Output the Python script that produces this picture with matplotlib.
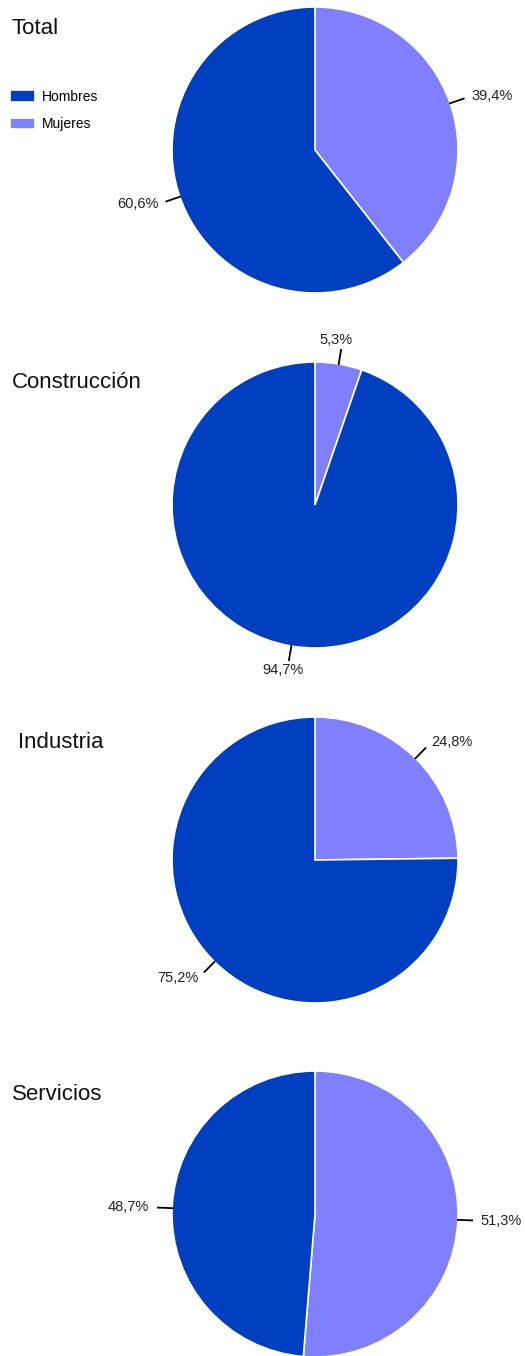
import numpy as np
import matplotlib
matplotlib.use('Agg')
import matplotlib.pyplot as plt

plt.rcParams['font.family'] = ['Liberation Sans', 'DejaVu Sans']

# datos: % de ocupados por sexo
sectores = ['Total', 'Construcción', 'Industria', 'Servicios']
mujeres = [39.4, 5.3, 24.8, 51.3]
hombres = [60.6, 94.7, 75.2, 48.7]
series = ['Mujeres', 'Hombres']
colores = ['#8080FF', '#0040C0']

W, H = 525, 1356
centros_y = [150, 505, 860, 1214]
titulo_pos = [(12, 28), (12, 382), (18, 743), (12, 1094)]
R = 143  # radio en px

fig = plt.figure(figsize=(W / 100, H / 100), dpi=100)

def fmt(v):
    return ('%.1f%%' % v).replace('.', ',')

primeros = None
for i, sec in enumerate(sectores):
    cx, cy = 315, centros_y[i]
    half = 1.05 * R
    ax = fig.add_axes([(cx - half) / W, (H - cy - half) / H, 2 * half / W, 2 * half / H])
    vals = [mujeres[i], hombres[i]]
    wedges, _ = ax.pie(vals, colors=colores, startangle=90, counterclock=False,
                       wedgeprops=dict(edgecolor='white', linewidth=1.2))
    if primeros is None:
        primeros = wedges
    ax.set_xlim(-1.05, 1.05)
    ax.set_ylim(-1.05, 1.05)
    ax.set_aspect('equal')
    ax.axis('off')

    for w, v in zip(wedges, vals):
        ang = np.deg2rad((w.theta1 + w.theta2) / 2)
        x, y = np.cos(ang), np.sin(ang)
        ax.plot([x * 1.0, x * 1.1], [y * 1.0, y * 1.1], color='black', lw=1.3,
                clip_on=False)
        if abs(x) < 0.3:
            ha = 'center'
            va = 'bottom' if y > 0 else 'top'
            tx, ty = x * 1.12 - 0.04, y * 1.12
        else:
            ha = 'left' if x > 0 else 'right'
            va = 'center'
            tx, ty = x * 1.16, y * 1.16
        ax.text(tx, ty, fmt(v), ha=ha, va=va, fontsize=10.5, color='#222222')

    tx, ty = titulo_pos[i]
    fig.text(tx / W, 1 - ty / H, sec, fontsize=16, ha='left', va='center',
             color='#111111')

fig.legend([primeros[1], primeros[0]], ['Hombres', 'Mujeres'],
           loc='upper left', bbox_to_anchor=(10 / W, 1 - 90 / H),
           frameon=False, fontsize=10, handlelength=1.8, handleheight=0.9,
           borderpad=0, borderaxespad=0, handletextpad=0.5, labelspacing=0.95)

fig.savefig('out.png', dpi=100, facecolor='white')
